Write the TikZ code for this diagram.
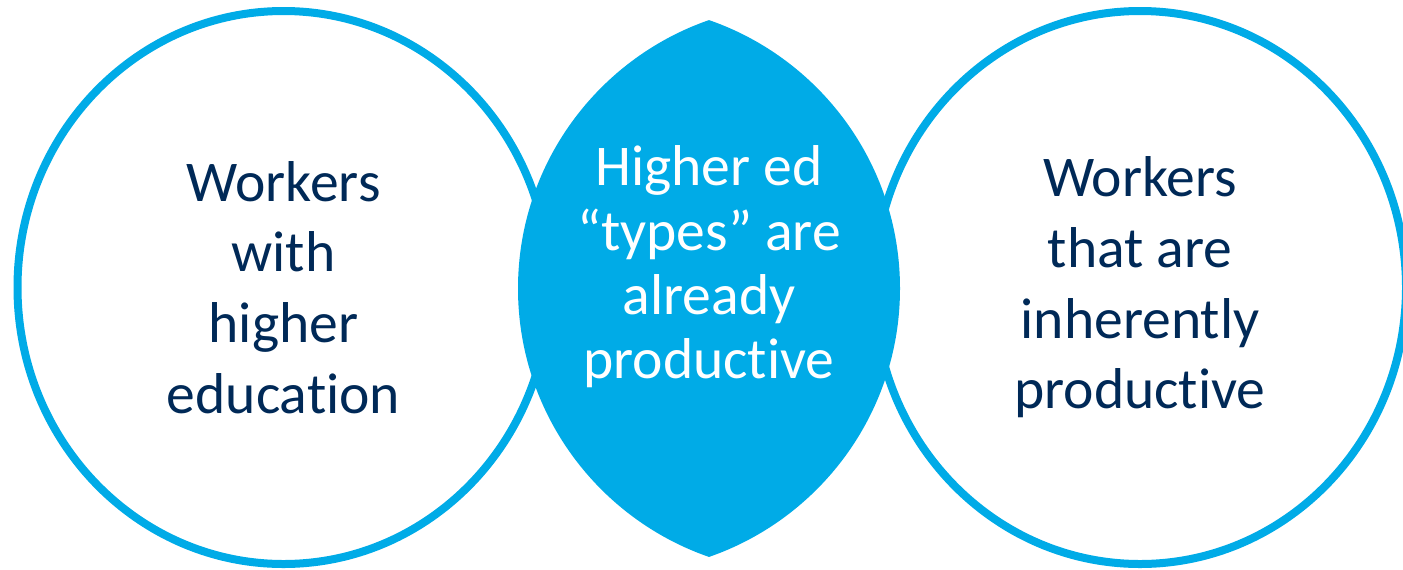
\documentclass[tikz,border=0pt]{standalone}
\usepackage{fontspec}
\setmainfont{Carlito}[Ligatures=NoCommon]
\usetikzlibrary{shapes.geometric}
\definecolor{vennblue}{RGB}{0,171,231}
\definecolor{venntext}{RGB}{0,41,87}

\begin{document}
\begin{tikzpicture}[x=0.5pt,y=-0.5pt,
  ring/.style={draw=vennblue, line width=4pt, ellipse, minimum width=266pt, minimum height=276.5pt,
    inner sep=0pt, align=center, text=venntext, font=\fontsize{28.8}{35.3}\selectfont},
  lenstext/.style={align=center, text=white, font=\fontsize{28.8}{32.2}\selectfont}]
\useasboundingbox (0,0) rectangle (1403,569);
\node[ring] (educ) at (283.5,287.5) {Workers\\with\\higher\\education};
\node[ring] (prod) at (1140,287.5) {Workers\\that are\\inherently\\productive};
\begin{scope}
 \clip (802,288.5) circle (284);
 \fill[vennblue] (616,288.5) circle (284);
\end{scope}
\node[lenstext] (types) at (709,267) {Higher ed\\“types” are\\already\\productive};
\end{tikzpicture}
\end{document}
